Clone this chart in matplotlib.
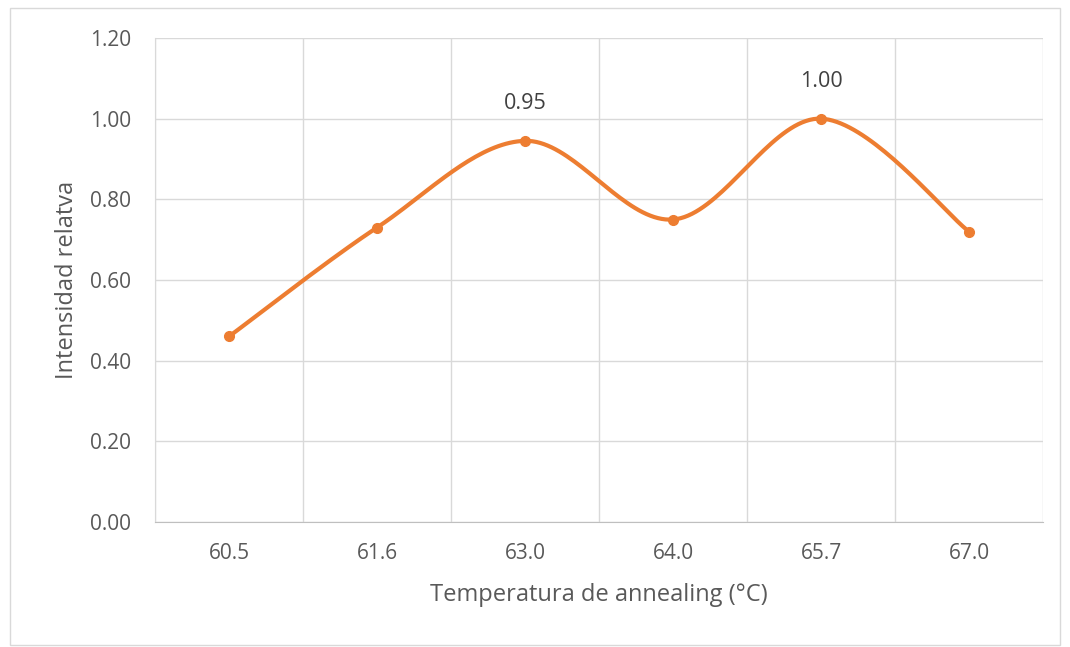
import numpy as np
import matplotlib.pyplot as plt
from matplotlib.patches import Rectangle

temps = ['60.5', '61.6', '63.0', '64.0', '65.7', '67.0']
intensity = [0.46, 0.73, 0.945, 0.75, 1.00, 0.72]
labels = {2: '0.95', 4: '1.00'}
y_ticks = [0.0, 0.2, 0.4, 0.6, 0.8, 1.0, 1.2]

orange = '#ED7D31'
grid_c = '#D9D9D9'
text_c = '#595959'

plt.rcParams['font.family'] = ['Open Sans', 'DejaVu Sans']


def smooth(xs, ys, n=40):
    # Excel-like smoothed line: Catmull-Rom through the points, drawn as cubic Beziers
    px = np.array(xs, dtype=float)
    py = np.array(ys, dtype=float)
    px = np.concatenate([[px[0]], px, [px[-1]]])
    py = np.concatenate([[py[0]], py, [py[-1]]])
    out_x, out_y = [], []
    t = np.linspace(0, 1, n)
    for i in range(1, len(px) - 2):
        p0 = np.array([px[i], py[i]])
        p3 = np.array([px[i + 1], py[i + 1]])
        c1 = p0 + (np.array([px[i + 1], py[i + 1]]) - np.array([px[i - 1], py[i - 1]])) / 6
        c2 = p3 - (np.array([px[i + 2], py[i + 2]]) - np.array([px[i], py[i]])) / 6
        b = ((1 - t) ** 3)[:, None] * p0 + (3 * (1 - t) ** 2 * t)[:, None] * c1 \
            + (3 * (1 - t) * t ** 2)[:, None] * c2 + (t ** 3)[:, None] * p3
        out_x.extend(b[:, 0])
        out_y.extend(b[:, 1])
    return out_x, out_y


fig = plt.figure(figsize=(10.7, 6.47), dpi=100)
fig.patches.append(Rectangle((10 / 1070, 2 / 647), 1050 / 1070, 637 / 647,
                             transform=fig.transFigure, fill=False,
                             edgecolor=grid_c, linewidth=1))
ax = fig.add_axes([155 / 1070, 125 / 647, 888 / 1070, 484 / 647])

x = np.arange(len(temps))
sx, sy = smooth(x, intensity)
ax.plot(sx, sy, color=orange, linewidth=3, solid_capstyle='round', zorder=3)
ax.plot(x, intensity, 'o', color=orange, markersize=7, zorder=4)

for i, txt in labels.items():
    ax.annotate(txt, (x[i], intensity[i]), xytext=(0, 27), textcoords='offset points',
                ha='center', va='center', fontsize=15.5, color='#404040')

ax.set_xlim(-0.5, len(temps) - 0.5)
ax.set_ylim(0, 1.2)
ax.set_xticks(x)
ax.set_xticklabels(temps)
ax.set_yticks(y_ticks)
ax.set_yticklabels([f'{v:.2f}' for v in y_ticks])
ax.set_xticks(np.arange(-0.5, len(temps)), minor=True)
ax.grid(True, axis='y', color=grid_c, linewidth=1)
ax.grid(True, axis='x', which='minor', color=grid_c, linewidth=1)
ax.set_axisbelow(True)
ax.tick_params(axis='both', which='both', length=0, labelsize=15, colors=text_c)
ax.tick_params(axis='x', pad=15)
ax.tick_params(axis='y', pad=17)
for s in ['top', 'right']:
    ax.spines[s].set_visible(False)
ax.spines['left'].set_color(grid_c)
ax.spines['bottom'].set_color('#BFBFBF')

ax.set_xlabel('Temperatura de annealing (°C)', fontsize=17, color=text_c, labelpad=14)
ax.set_ylabel('Intensidad relatva', fontsize=17, color=text_c, labelpad=8)

fig.savefig('out.png', dpi=100)
